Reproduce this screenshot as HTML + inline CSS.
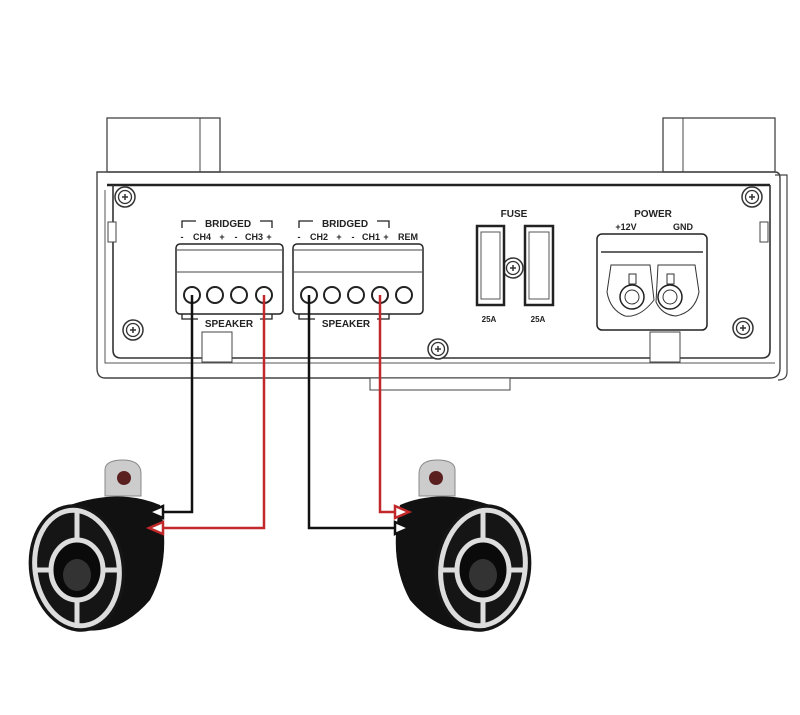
<!DOCTYPE html>
<html><head><style>html,body{margin:0;padding:0;background:#fff}svg{display:block}</style></head><body>
<svg width="800" height="715" viewBox="0 0 800 715" xmlns="http://www.w3.org/2000/svg" font-family="Liberation Sans, sans-serif" font-weight="bold">
<defs>
<g id="screw"><circle r="10" fill="#fff" stroke="#333" stroke-width="1.5"/><circle r="6.5" fill="none" stroke="#333" stroke-width="1.3"/><path d="M-3 0H3M0 -3V3" stroke="#333" stroke-width="1.5"/></g>
<g id="spk">
<path d="M105 470 q0 -10 18 -10 q18 0 18 14 v22 h-36z" fill="#ccc" stroke="#888"/>
<circle cx="124" cy="478" r="7" fill="#5a2020"/>
<path d="M70 505 Q120 488 160 505 Q172 560 150 600 Q120 635 80 630 Z" fill="#111"/>
<ellipse cx="77" cy="568" rx="48" ry="64" fill="#151515" transform="rotate(-8 77 568)"/>
<ellipse cx="77" cy="568" rx="42" ry="58" fill="none" stroke="#ddd" stroke-width="5" transform="rotate(-8 77 568)"/>
<ellipse cx="77" cy="570" rx="26" ry="30" fill="#0a0a0a" stroke="#ddd" stroke-width="5"/>
<path d="M77 510 v30 M77 600 v28 M36 570 h15 M103 570 h16" stroke="#ddd" stroke-width="5"/>
<ellipse cx="77" cy="575" rx="14" ry="16" fill="#333"/>
</g>
</defs>
<!-- top blocks -->
<rect x="107" y="118" width="113" height="54" fill="#fff" stroke="#444" stroke-width="1.3"/>
<line x1="200" y1="118" x2="200" y2="172" stroke="#444"/>
<rect x="663" y="118" width="112" height="54" fill="#fff" stroke="#444" stroke-width="1.3"/>
<line x1="683" y1="118" x2="683" y2="172" stroke="#444"/>
<!-- chassis -->
<path d="M97 172 H775 Q780 172 780 178 V368 Q780 378 770 378 H105 Q97 378 97 368 Z" fill="none" stroke="#444" stroke-width="1.4"/>
<path d="M775 175 H787 V372 Q787 380 778 380" fill="none" stroke="#444" stroke-width="1.2"/>
<line x1="107" y1="185" x2="770" y2="185" stroke="#222" stroke-width="2.5"/>
<path d="M113 185 V350 Q113 358 121 358 H762 Q770 358 770 350 V185" fill="none" stroke="#333" stroke-width="1.6"/>
<path d="M105 190 V363 H775" fill="none" stroke="#555"/>
<rect x="370" y="378" width="140" height="12" fill="#fff" stroke="#444"/>
<rect x="202" y="332" width="30" height="30" fill="#fff" stroke="#444"/>
<rect x="650" y="332" width="30" height="30" fill="#fff" stroke="#444"/>
<rect x="108" y="222" width="8" height="20" fill="#fff" stroke="#444"/>
<rect x="760" y="222" width="8" height="20" fill="#fff" stroke="#444"/>
<use href="#screw" x="125" y="197"/><use href="#screw" x="133" y="330"/><use href="#screw" x="438" y="349"/>
<use href="#screw" x="752" y="197"/><use href="#screw" x="743" y="328"/><use href="#screw" x="513" y="268"/>
<!-- labels -->
<g font-size="10" fill="#222" text-anchor="middle">
<text x="228" y="227">BRIDGED</text><text x="345" y="227">BRIDGED</text>
<text x="182" y="240" font-size="9">-</text><text x="202" y="240" font-size="9">CH4</text><text x="222" y="240" font-size="9">+</text>
<text x="236" y="240" font-size="9">-</text><text x="254" y="240" font-size="9">CH3</text><text x="269" y="240" font-size="9">+</text>
<text x="299" y="240" font-size="9">-</text><text x="319" y="240" font-size="9">CH2</text><text x="339" y="240" font-size="9">+</text>
<text x="353" y="240" font-size="9">-</text><text x="371" y="240" font-size="9">CH1</text><text x="386" y="240" font-size="9">+</text>
<text x="408" y="240" font-size="9">REM</text>
<text x="229" y="327">SPEAKER</text><text x="346" y="327">SPEAKER</text>
<text x="514" y="217">FUSE</text><text x="653" y="217">POWER</text>
<text x="626" y="230" font-size="9">+12V</text><text x="683" y="230" font-size="9">GND</text>
<text x="489" y="322" font-size="8">25A</text><text x="538" y="322" font-size="8">25A</text>
</g>
<path d="M182 228 V221 H196 M260 221 H272 V228 M299 228 V221 H313 M377 221 H389 V228" fill="none" stroke="#222" stroke-width="1.3"/>
<path d="M182 312 V319 H198 M260 319 H272 V312 M299 312 V319 H315 M377 319 H389 V312" fill="none" stroke="#222" stroke-width="1.3"/>
<!-- terminal blocks -->
<rect x="176" y="244" width="107" height="70" rx="4" fill="#fff" stroke="#222" stroke-width="1.5"/>
<line x1="177" y1="272" x2="282" y2="272" stroke="#444"/><line x1="177" y1="250" x2="282" y2="250" stroke="#444"/>
<rect x="293" y="244" width="130" height="70" rx="4" fill="#fff" stroke="#222" stroke-width="1.5"/>
<line x1="294" y1="272" x2="422" y2="272" stroke="#444"/><line x1="294" y1="250" x2="422" y2="250" stroke="#444"/>
<g fill="#fff" stroke="#222" stroke-width="2">
<circle cx="192" cy="295" r="8"/><circle cx="215" cy="295" r="8"/><circle cx="239" cy="295" r="8"/><circle cx="264" cy="295" r="8"/>
<circle cx="309" cy="295" r="8"/><circle cx="332" cy="295" r="8"/><circle cx="356" cy="295" r="8"/><circle cx="380" cy="295" r="8"/><circle cx="404" cy="295" r="8"/>
</g>
<!-- fuses -->
<rect x="477" y="226" width="27" height="79" fill="#fff" stroke="#222" stroke-width="2.5"/><rect x="481" y="232" width="19" height="67" fill="#fff" stroke="#555"/>
<rect x="525" y="226" width="28" height="79" fill="#fff" stroke="#222" stroke-width="2.5"/><rect x="529" y="232" width="20" height="67" fill="#fff" stroke="#555"/>
<!-- power -->
<rect x="597" y="234" width="110" height="96" rx="5" fill="#fff" stroke="#222" stroke-width="1.5"/>
<line x1="601" y1="252" x2="703" y2="252" stroke="#333" stroke-width="1.5"/>
<path d="M611 265 H650 L654 300 Q640 318 625 316 Q610 310 607 292 Z" fill="#fff" stroke="#333"/>
<path d="M658 265 H695 L699 292 Q695 312 676 316 Q662 315 656 302 Z" fill="#fff" stroke="#333"/>
<rect x="629" y="274" width="7" height="10" fill="#fff" stroke="#333"/><rect x="667" y="274" width="7" height="10" fill="#fff" stroke="#333"/>
<circle cx="632" cy="297" r="12" fill="#fff" stroke="#222" stroke-width="1.5"/><circle cx="632" cy="297" r="7" fill="none" stroke="#333"/>
<circle cx="670" cy="297" r="12" fill="#fff" stroke="#222" stroke-width="1.5"/><circle cx="670" cy="297" r="7" fill="none" stroke="#333"/>
<!-- speakers -->
<use href="#spk"/>
<use href="#spk" transform="translate(560 0) scale(-1 1)"/>
<!-- wires -->
<g fill="none" stroke-width="2.5">
<path d="M192 295 V512 H158" stroke="#111"/>
<path d="M264 295 V528 H158" stroke="#c0282a"/>
<path d="M309 295 V528 H398" stroke="#111"/>
<path d="M380 295 V512 H398" stroke="#c0282a"/>
</g>
<g fill="#fff" stroke-width="2.5">
<path d="M149 512 L163 506 V518 Z" stroke="#111"/>
<path d="M149 528 L163 522 V534 Z" stroke="#c0282a"/>
<path d="M409 512 L395 506 V518 Z" stroke="#c0282a"/>
<path d="M409 528 L395 522 V534 Z" stroke="#111"/>
</g>
</svg>
</body></html>
